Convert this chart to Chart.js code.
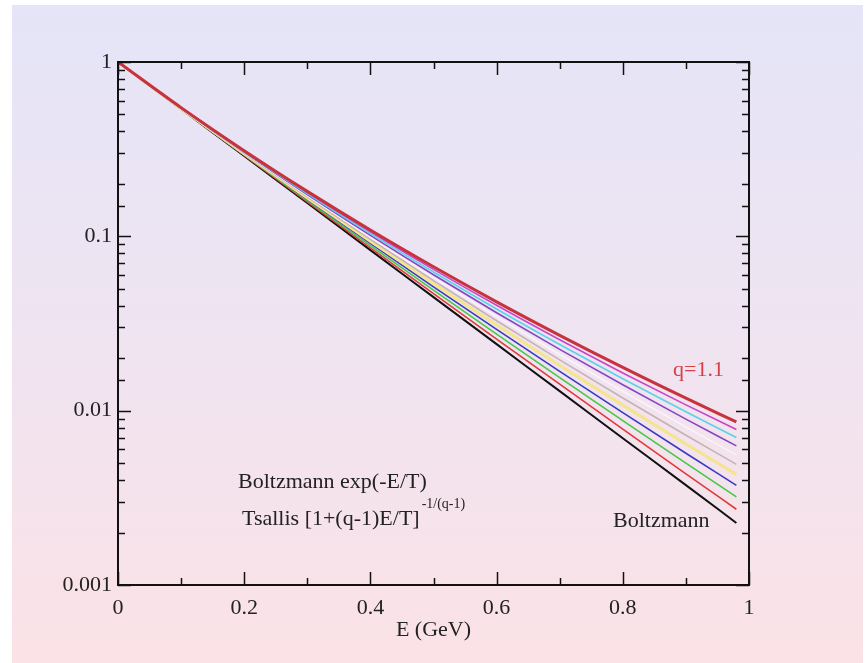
<!DOCTYPE html>
<html>
<head>
<meta charset="utf-8">
<script src="https://cdn.jsdelivr.net/npm/chart.js@4"></script>
<style>
  html, body { margin: 0; padding: 0; background: #fff; }
  #wrap { position: relative; width: 868px; height: 663px; }
  #bg { position: absolute; left: 12px; top: 5px; width: 851px; height: 658px;
        background: linear-gradient(to bottom, #e5e4f8 0%, #efe4f1 50%, #fbe2e6 100%); }
  #chart { position: absolute; left: 0; top: 0; }
</style>
</head>
<body>
<div id="wrap">
  <div id="bg"></div>
  <canvas id="chart" width="868" height="663"></canvas>
</div>
<script>
// E (GeV) sample points
const energy = [0, 0.1, 0.2, 0.3, 0.4, 0.5, 0.6, 0.7, 0.8, 0.9, 0.98];

// top curve (q=1.1) down to Boltzmann
const q110 = [1, 0.5474, 0.3101, 0.1811, 0.1087, 0.0669, 0.0421, 0.02705, 0.0177, 0.01179, 0.00862];
const q109 = [1, 0.5464, 0.3080, 0.1786, 0.1062, 0.06467, 0.04021, 0.0255, 0.01646, 0.0108, 0.0078];
const q108 = [1, 0.5454, 0.3060, 0.1761, 0.1037, 0.06243, 0.03833, 0.02397, 0.01524, 0.00985, 0.00702];
const q107 = [1, 0.5445, 0.3039, 0.1735, 0.1012, 0.0602, 0.03647, 0.02247, 0.01407, 0.00894, 0.00628];
const q106 = [1, 0.5435, 0.3018, 0.1710, 0.09869, 0.05797, 0.03462, 0.021, 0.01292, 0.00806, 0.00558];
const q105 = [1, 0.5425, 0.2996, 0.1684, 0.09615, 0.05576, 0.0328, 0.01956, 0.01182, 0.00723, 0.00492];
const q104 = [1, 0.5414, 0.2975, 0.1658, 0.09361, 0.05355, 0.031, 0.01816, 0.01076, 0.00644, 0.00431];
const q103 = [1, 0.5404, 0.2953, 0.1632, 0.09106, 0.05134, 0.02923, 0.0168, 0.00974, 0.0057, 0.00373];
const q102 = [1, 0.5394, 0.2932, 0.1605, 0.08851, 0.04915, 0.02748, 0.01547, 0.00876, 0.005, 0.0032];
const q101 = [1, 0.5384, 0.2910, 0.1578, 0.08594, 0.04697, 0.02576, 0.01418, 0.00783, 0.00434, 0.00272];
const boltzmann = [1, 0.5374, 0.2887, 0.1552, 0.08337, 0.0448, 0.02407, 0.01294, 0.00695, 0.00374, 0.00227];

const xTicks = [0, 0.2, 0.4, 0.6, 0.8, 1];
const yTicks = [1, 0.1, 0.01, 0.001];

const series = [
  { label: "q=1.1", data: q110, color: "#c8323c", width: 3 },
  { label: "q=1.09", data: q109, color: "#c646c8", width: 1.6 },
  { label: "q=1.08", data: q108, color: "#5ad2e6", width: 1.6 },
  { label: "q=1.07", data: q107, color: "#8446c4", width: 1.6 },
  { label: "q=1.06", data: q106, color: "#faf2f6", width: 1.6 },
  { label: "q=1.05", data: q105, color: "#c6b2b6", width: 1.6 },
  { label: "q=1.04", data: q104, color: "#f4e48c", width: 3 },
  { label: "q=1.03", data: q103, color: "#3a3ac4", width: 1.6 },
  { label: "q=1.02", data: q102, color: "#46c846", width: 1.6 },
  { label: "q=1.01", data: q101, color: "#e03a3a", width: 1.6 },
  { label: "Boltzmann", data: boltzmann, color: "#111111", width: 2 }
];

const serif = "'Liberation Serif', 'Times New Roman', serif";

const frameTicks = {
  id: "frameTicks",
  afterDraw(chart) {
    const ctx = chart.ctx;
    const a = chart.chartArea;
    const xs = chart.scales.x, ys = chart.scales.y;
    ctx.save();
    ctx.strokeStyle = "#111";
    ctx.lineWidth = 2;
    ctx.strokeRect(a.left, a.top, a.right - a.left, a.bottom - a.top);
    ctx.lineWidth = 1.5;
    ctx.beginPath();
    xs.ticks.forEach(t => {
      const px = Math.round(xs.getPixelForValue(t.value)) + 0.5;
      const major = Math.round(t.value * 10) % 2 === 0;
      const len = major ? 13 : 7;
      ctx.moveTo(px, a.bottom); ctx.lineTo(px, a.bottom - len);
      ctx.moveTo(px, a.top); ctx.lineTo(px, a.top + len);
    });
    ys.ticks.forEach(t => {
      const py = Math.round(ys.getPixelForValue(t.value)) + 0.5;
      const major = yTicks.some(v => Math.abs(v - t.value) < v * 1e-6);
      const len = major ? 13 : 7;
      ctx.moveTo(a.left, py); ctx.lineTo(a.left + len, py);
      ctx.moveTo(a.right, py); ctx.lineTo(a.right - len, py);
    });
    ctx.stroke();

    // annotation texts
    ctx.fillStyle = "#222";
    ctx.textBaseline = "alphabetic";
    ctx.font = "22px " + serif;
    ctx.fillText("Boltzmann exp(-E/T)", 238, 488);
    const main = "Tsallis [1+(q-1)E/T]";
    ctx.fillText(main, 242, 525);
    const w = ctx.measureText(main).width;
    ctx.font = "14px " + serif;
    ctx.fillText("-1/(q-1)", 242 + w + 2, 508);
    ctx.font = "22px " + serif;
    ctx.fillText("Boltzmann", 613, 527);
    ctx.fillStyle = "#d84048";
    ctx.fillText("q=1.1", 673, 376);
    ctx.restore();
  }
};

new Chart(document.getElementById("chart"), {
  type: "line",
  data: {
    datasets: series.map(s => ({
      label: s.label,
      data: energy.map((e, i) => ({ x: e, y: s.data[i] })),
      borderColor: s.color,
      borderWidth: s.width,
      pointRadius: 0,
      cubicInterpolationMode: "monotone",
      fill: false
    }))
  },
  options: {
    responsive: false,
    animation: false,
    devicePixelRatio: 1,
    layout: { padding: { top: 62, right: 119, left: 0, bottom: 0 } },
    plugins: { legend: { display: false }, tooltip: { enabled: false } },
    scales: {
      x: {
        type: "linear",
        min: 0,
        max: 1,
        grid: { display: false, drawTicks: false },
        border: { display: false },
        afterFit(scale) { scale.height = 78; },
        ticks: {
          stepSize: 0.1,
          autoSkip: false,
          maxRotation: 0,
          padding: 10,
          color: "#222",
          font: { family: serif, size: 22 },
          callback(v) {
            const r = Math.round(v * 10);
            if (r % 2 !== 0) return "";
            return xTicks.includes(r / 10) ? String(r / 10) : "";
          }
        },
        title: {
          display: true,
          text: "E (GeV)",
          color: "#222",
          font: { family: serif, size: 22 },
          padding: { top: 0, bottom: 20 }
        }
      },
      y: {
        type: "logarithmic",
        min: 0.001,
        max: 1,
        grid: { display: false, drawTicks: false },
        border: { display: false },
        afterFit(scale) { scale.width = 118; },
        ticks: {
          autoSkip: false,
          padding: 6,
          color: "#222",
          font: { family: serif, size: 22 },
          callback(v) {
            const hit = yTicks.find(t => Math.abs(t - v) < t * 1e-6);
            return hit !== undefined ? String(hit) : "";
          }
        }
      }
    }
  },
  plugins: [frameTicks]
});
</script>
</body>
</html>
